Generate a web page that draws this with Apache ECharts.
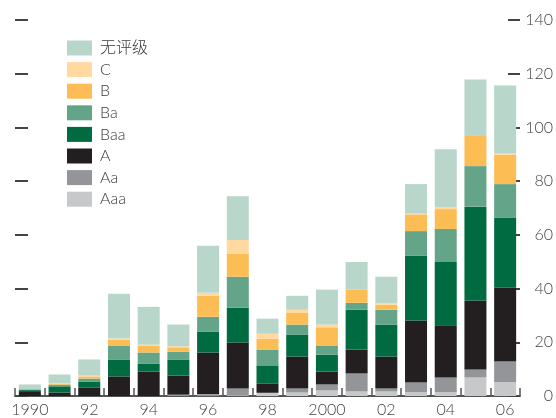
<!DOCTYPE html>
<html>
<head>
<meta charset="utf-8">
<script src="https://cdn.jsdelivr.net/npm/echarts@6/dist/echarts.min.js"></script>
<style>
  html, body { margin: 0; padding: 0; background: #fff; }
  #chart { width: 556px; height: 418px; }
</style>
</head>
<body>
<div id="chart"></div>
<script>
// Years on the horizontal axis (labels shown on every other year)
const years = ['1990', '91', '92', '93', '94', '95', '96', '97', '98', '99',
               '2000', '01', '02', '03', '04', '05', '06'];

// Stacked amounts per rating grade, bottom of the stack first
const aaa     = [0,   0,   0,   0,   0,   0,   0,   0.3, 1.2, 1.3, 2.1, 1.7, 1.7, 1.4, 1.4, 6.9, 5.2];
const aa      = [0,   0,   0,   0,   0,   0.5, 0.7, 2.5, 0,   1.5, 2.2, 6.7, 1.1, 3.6, 5.5, 3.0, 7.6];
const a       = [1.8, 1.3, 3.2, 7.3, 9.1, 7.1, 15.5,17.1,3.5, 11.9,4.8, 8.9, 11.9,23.1,19.4,25.7,27.5];
const baa     = [0.4, 2.3, 2.2, 6.3, 3.0, 6.0, 7.8, 13.0,6.7, 8.2, 6.3, 14.8,11.9,24.1,23.6,34.9,26.0];
const ba      = [0.3, 0.6, 1.1, 5.2, 4.1, 2.9, 5.5, 11.5,5.9, 3.7, 3.4, 2.6, 5.5, 9.2, 12.3,15.1,12.6];
const b       = [0,   0.3, 0.8, 2.2, 2.6, 1.6, 7.8, 8.5, 4.1, 4.5, 6.8, 4.9, 1.9, 6.0, 7.4, 11.5,10.9];
const c       = [0,   0.3, 0.3, 0.4, 0.3, 0.4, 1.1, 5.2, 1.8, 1.0, 1.0, 0,   0.5, 0.5, 0.8, 0,   0.5];
const unrated = [1.8, 3.2, 6.0, 16.7,14.1,8.1, 17.5,16.3,5.6, 5.2, 13.0,10.3,9.9, 11.0,21.5,20.7,25.3];

// Right-hand value axis ticks
const valueTicks = [0, 20, 40, 60, 80, 100, 120, 140];

const stackOrder = [
  { name: 'Aaa',  data: aaa,     color: '#C7C8CA' },
  { name: 'Aa',   data: aa,      color: '#939598' },
  { name: 'A',    data: a,       color: '#231F20' },
  { name: 'Baa',  data: baa,     color: '#006B40' },
  { name: 'Ba',   data: ba,      color: '#64A58A' },
  { name: 'B',    data: b,       color: '#FDBD55' },
  { name: 'C',    data: c,       color: '#FFD9A0' },
  { name: '无评级', data: unrated, color: '#B9D6CA' }
];

const fontFamily = 'Lato, "Noto Sans CJK SC", sans-serif';

const chart = echarts.init(document.getElementById('chart'), null, { renderer: 'canvas' });

chart.setOption({
  animation: false,
  textStyle: { fontFamily: fontFamily },
  grid: { left: 15, right: 35, top: 20, bottom: 21.5, containLabel: false },
  legend: {
    orient: 'vertical',
    left: 67,
    top: 40,
    padding: 0,
    itemWidth: 25,
    itemHeight: 15,
    itemGap: 5.6,
    icon: 'rect',
    data: ['无评级', 'C', 'B', 'Ba', 'Baa', 'A', 'Aa', 'Aaa'],
    textStyle: { fontSize: 16, fontWeight: 300, color: '#3a3a3a', padding: [0, 0, 0, 3], fontFamily: fontFamily }
  },
  xAxis: {
    type: 'category',
    data: years,
    boundaryGap: true,
    axisLine: { show: true, lineStyle: { color: '#555', width: 2 } },
    axisTick: { show: true, inside: true, length: 8, interval: 0, lineStyle: { color: '#555', width: 1.5 } },
    axisLabel: { interval: 1, margin: 6, fontSize: 16, fontWeight: 300, color: '#444', fontFamily: fontFamily },
    splitLine: { show: false }
  },
  yAxis: [
    {
      type: 'value',
      position: 'left',
      min: 0, max: 140, interval: 20,
      axisLine: { show: false },
      axisTick: { show: true, inside: true, length: 13, lineStyle: { color: '#444', width: 2 } },
      axisLabel: { show: false },
      splitLine: { show: false }
    },
    {
      type: 'value',
      position: 'right',
      min: valueTicks[0], max: valueTicks[valueTicks.length - 1], interval: 20,
      axisLine: { show: false },
      axisTick: { show: true, inside: true, length: 12, lineStyle: { color: '#444', width: 2 } },
      axisLabel: { show: true, inside: false, margin: 33, align: 'right', fontSize: 16, fontWeight: 300, color: '#444', fontFamily: fontFamily },
      splitLine: { show: false }
    }
  ],
  series: stackOrder.map(s => ({
    name: s.name,
    type: 'bar',
    stack: 'total',
    yAxisIndex: 0,
    barWidth: 22,
    data: s.data,
    itemStyle: { color: s.color },
    emphasis: { disabled: true }
  }))
});
</script>
</body>
</html>
